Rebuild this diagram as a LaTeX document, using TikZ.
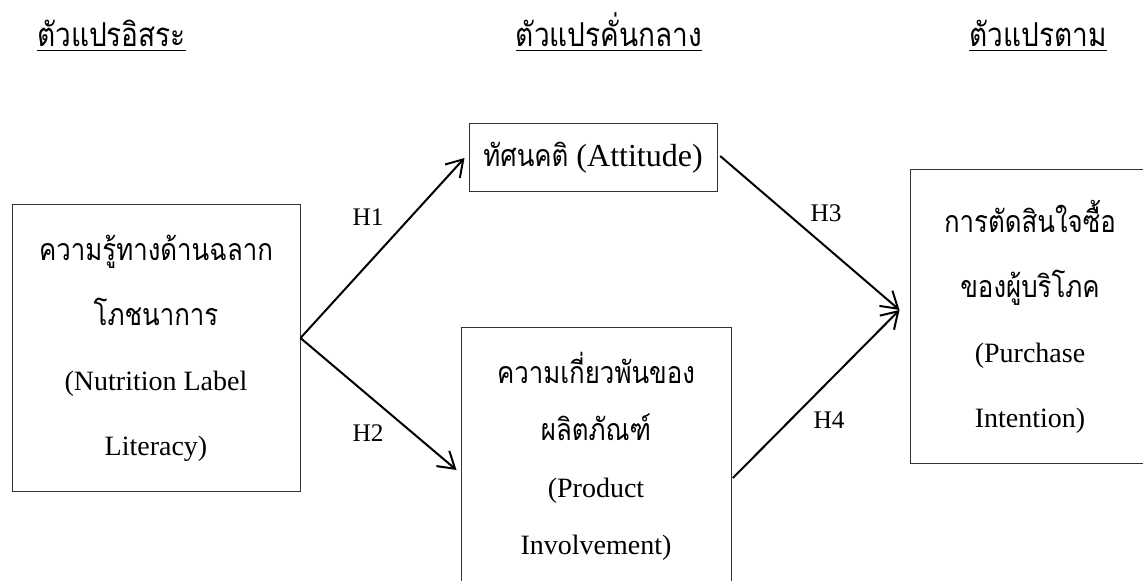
\documentclass[tikz,border=0pt]{standalone}
\usepackage{fontspec}
\setmainfont{Liberation Serif}
\newfontfamily\thai[Script=Thai, FakeStretch=0.85]{Loma}
\usetikzlibrary{arrows.meta}
\newcommand{\thb}[1]{{\fontsize{22.8}{48.75}\thai #1}}
\tikzset{
  boxnode/.style={draw=black!80, line width=0.75pt, inner sep=0pt, align=center},
  bodytext/.style={font=\fontsize{21}{48.75}\selectfont},
  arr/.style={line width=1.5pt, -{Straight Barb[length=12pt,width=15pt,line width=1.5pt]}},
  hlabel/.style={font=\fontsize{19}{22}\selectfont, inner sep=0pt},
  title/.style={font=\fontsize{24.7}{28}\selectfont\thai, inner sep=0pt, anchor=base},
  uline/.style={line width=1.1pt}
}
\begin{document}
\begin{tikzpicture}[x=0.75pt,y=-0.75pt]
\useasboundingbox (0,0) rectangle (1143,581);
\clip (0,0) rectangle (1143,581);
% titles
\node[title] (t1) at (111.5,47) {ตัวแปรอิสระ};
\node[title] (t2) at (609,47) {ตัวแปรคั่นกลาง};
\node[title] (t3) at (1038,47) {ตัวแปรตาม};
\draw[uline] ([yshift=-2.5pt]t1.base west) -- ([yshift=-2.5pt]t1.base east);
\draw[uline] ([yshift=-2.5pt]t2.base west) -- ([yshift=-2.5pt]t2.base east);
\draw[uline] ([yshift=-2.5pt]t3.base west) -- ([yshift=-2.5pt]t3.base east);
% boxes
\node[boxnode, bodytext, minimum width=216pt, minimum height=214.5pt] (L) at (156,348)
  {\thb{ความรู้ทางด้านฉลาก}\\\thb{โภชนาการ}\\(Nutrition Label\\Literacy)};
\node[boxnode, font=\fontsize{24}{28}\selectfont, minimum width=186pt, minimum height=51pt] (A) at (593,158)
  {{\fontsize{22.8}{28}\thai ทัศนคติ} (Attitude)};
\node[boxnode, font=\fontsize{21}{42.75}\selectfont, minimum width=202.5pt, minimum height=193.5pt] (P) at (596,456)
  {{\fontsize{22.8}{42.75}\thai ความเกี่ยวพันของ}\\{\fontsize{22.8}{42.75}\thai ผลิตภัณฑ์}\\(Product\\Involvement)};
\node[boxnode, minimum width=180pt, minimum height=219.75pt] (R) at (1030,316.5) {};
\node[bodytext, align=center, inner sep=0pt] (Rt) at (1030,316.5)
  {\thb{การตัดสินใจซื้อ}\\\thb{ของผู้บริโภค}\\(Purchase\\Intention)};
% connector end points
\coordinate (Lout) at ([yshift=7.5pt]L.east);
\coordinate (Ain) at ([xshift=-3pt]A.west);
\coordinate (Pin) at ([shift={(-3pt,-10.5pt)}]P.west);
\coordinate (Aout) at ([shift={(2pt,1.5pt)}]A.east);
\coordinate (Pout) at ([shift={(1pt,-16.5pt)}]P.east);
\coordinate (Rin) at ([shift={(-7.5pt,4.9pt)}]R.west);
% arrows
\draw[arr] (Lout) -- (Ain);
\draw[arr] (Lout) -- (Pin);
\draw[arr] (Aout) -- (Rin);
\draw[arr] (Pout) -- (Rin);
% labels
\node[hlabel] (h1) at (368,217) {H1};
\node[hlabel] (h2) at (368,433) {H2};
\node[hlabel] (h3) at (826,213) {H3};
\node[hlabel] (h4) at (829,420) {H4};
\end{tikzpicture}
\end{document}
